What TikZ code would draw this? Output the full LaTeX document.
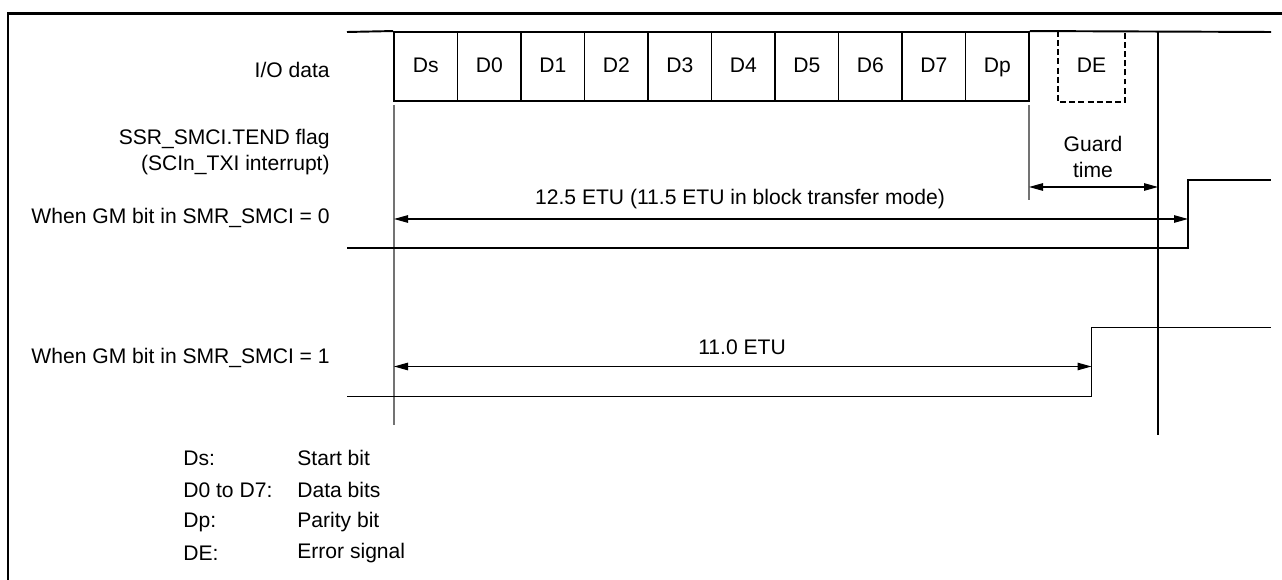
\documentclass[tikz,border=0pt]{standalone}
\usepackage{fontspec}
\setmainfont{Liberation Sans}
\usetikzlibrary{arrows.meta}
\tikzset{%
  sig/.style={line width=1.1pt},%
  guide/.style={line width=0.6pt,black!55},%
  bitbox/.style={draw,line width=1.1pt,minimum width=1.27cm,minimum height=1.38cm,inner sep=0pt,text height=1.6ex,text depth=0.4ex},%
  dim/.style={line width=0.6pt,{Triangle[length=2.8mm,width=1.5mm]}-{Triangle[length=2.8mm,width=1.5mm]}},%
  lbl/.style={anchor=east,inner sep=0pt,align=right},%
  key/.style={anchor=west,inner sep=0pt},%
}
\begin{document}
\begin{tikzpicture}[x=0.02cm,y=-0.02cm,font=\fontsize{12}{14.5}\selectfont]%
  \useasboundingbox (0,0) rectangle (1282,580);%
  \draw [line width=1.7pt] (8,580) -- (8,13.5) -- (1282,13.5);%
  % bit frame
  \node [bitbox] (Ds) at (425.75,66.5) {Ds};%
  \node [bitbox] (D0) at (489.25,66.5) {D0};%
  \node [bitbox] (D1) at (552.75,66.5) {D1};%
  \node [bitbox] (D2) at (616.25,66.5) {D2};%
  \node [bitbox] (D3) at (679.75,66.5) {D3};%
  \node [bitbox] (D4) at (743.25,66.5) {D4};%
  \node [bitbox] (D5) at (806.75,66.5) {D5};%
  \node [bitbox] (D6) at (870.25,66.5) {D6};%
  \node [bitbox] (D7) at (933.75,66.5) {D7};%
  \node [bitbox] (Dp) at (997.25,66.5) {Dp};%
  \node [bitbox,draw=none,minimum width=1.3cm] (DE) at (1091.5,66.5) {DE};%
  \coordinate (ioL) at (347,32);%
  \coordinate (ioR) at (1271,32);%
  \draw [sig] (ioL) -- (Ds.north west);%
  \draw [sig] (Dp.north east) -- (ioR);%
  \draw [sig,dash pattern=on 3.4pt off 1.8pt] (DE.north west) -- (DE.south west) -- (DE.south east) -- (DE.north east);%
  % time marks
  \coordinate (t0) at (394,105);%
  \coordinate (t0b) at (394,425);%
  \coordinate (tp) at (1029,105);%
  \coordinate (tpb) at (1029,200);%
  \coordinate (tg) at (1158,32);%
  \coordinate (tgb) at (1158,435);%
  \draw [guide] (t0) -- (t0b);%
  \draw [guide] (tp) -- (tpb);%
  \draw [line width=0.7pt] (tg) -- (tgb);%
  % guard time
  \coordinate (gA) at (1029,187);%
  \coordinate (gB) at (1158,187);%
  \draw [dim] (gA) -- (gB);%
  \node [align=center,inner sep=0pt] (guard) at (1093,157) {Guard\\time};%
  % GM = 0
  \coordinate (aA) at (394,219);%
  \coordinate (aB) at (1188,219);%
  \draw [dim] (aA) -- (aB);%
  \node (etuA) at (740,199) {12.5 ETU (11.5 ETU in block transfer mode)};%
  \coordinate (s0L) at (347,248);%
  \coordinate (s0R) at (1271,180);%
  \draw [sig] (s0L) -| (aB) |- (s0R);%
  % GM = 1
  \coordinate (bA) at (394,366.5);%
  \coordinate (bB) at (1091.5,366.5);%
  \draw [dim] (bA) -- (bB);%
  \node (etuB) at (742,347) {11.0 ETU};%
  \coordinate (s1L) at (347,396.5);%
  \coordinate (s1R) at (1271,327.5);%
  \draw [sig] (s1L) -| (bB) |- (s1R);%
  % labels
  \node [lbl] (io) at (330,70) {I/O data};%
  \node [lbl] (tend) at (330,152) {SSR\_SMCI.TEND flag\\(SCIn\_TXI interrupt)};%
  \node [lbl] (gm0) at (330,218) {When GM bit in SMR\_SMCI = 0};%
  \node [lbl] (gm1) at (330,358) {When GM bit in SMR\_SMCI = 1};%
  % legend
  \node [key] (k1) at (183,458) {Ds:};%
  \node [key] (k2) at (183,490) {D0 to D7:};%
  \node [key] (k3) at (183,522) {Dp:};%
  \node [key] (k4) at (183,553) {DE:};%
  \node [key] (v1) at (297,458) {Start bit};%
  \node [key] (v2) at (297,490) {Data bits};%
  \node [key] (v3) at (297,522) {Parity bit};%
  \node [key] (v4) at (297,553) {Error signal};%
\end{tikzpicture}
\end{document}
